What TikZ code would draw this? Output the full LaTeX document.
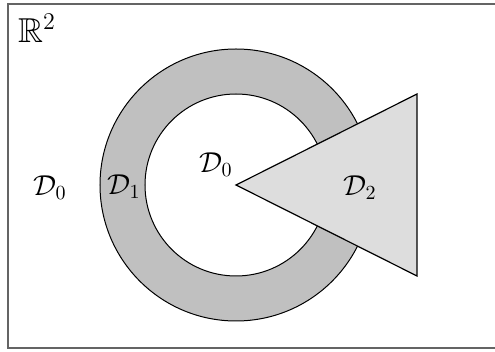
\documentclass[tikz,border=0pt]{standalone}
\usepackage{amssymb}
\usepackage{tikz}
\usetikzlibrary{positioning, calc}

\tikzset{
    ring/.style={fill=ringgray, draw=black, line width=0.5pt, even odd rule},
    wedge/.style={fill=wedgegray, draw=black, line width=0.6pt, line join=miter},
    region/.style={font=\Large, inner sep=0pt}
}
\definecolor{ringgray}{RGB}{192,192,192}
\definecolor{wedgegray}{RGB}{221,221,221}
\definecolor{framegray}{RGB}{100,100,100}

\begin{document}
\begin{tikzpicture}[
        x=0.5pt, y=-0.5pt,
        every node/.style={align=center}
    ]
        \useasboundingbox (0,0) rectangle (495,352);
        \draw[framegray, line width=1pt] (8,4) rectangle (497,348);

        \coordinate (c) at (236,185);
        \coordinate (top) at (417,94);
        \coordinate (bot) at (417,276);

        \path[ring] (c) circle (136) (c) circle (91);
        \draw[wedge] (c) -- (top) -- (bot) -- cycle;

        \node[region, font=\LARGE] (plane) at (37,28) {$\mathbb{R}^2$};
        \node[region] (outer) at (50,188) {$\mathcal{D}_0$};
        \node[region] (annulus) at (124,187) {$\mathcal{D}_1$};
        \node[region] (inner) at (216,165) {$\mathcal{D}_0$};
        \node[region] (cone) at (360,188) {$\mathcal{D}_2$};
    \end{tikzpicture}
\end{document}
